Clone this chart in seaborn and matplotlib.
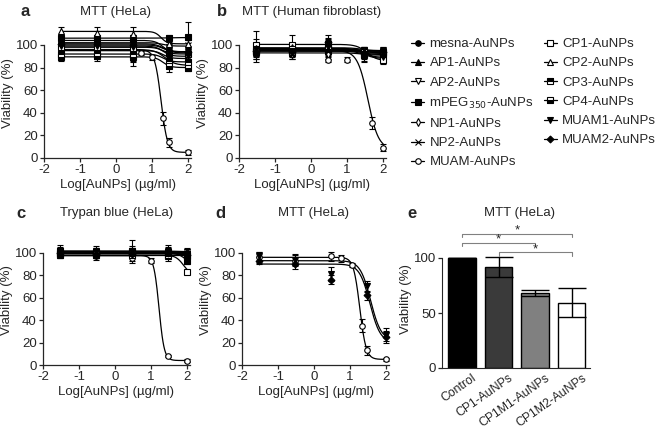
import numpy as np
import pandas as pd
import seaborn as sns
import matplotlib.pyplot as plt
import matplotlib.transforms as mtransforms
from matplotlib.lines import Line2D

sns.set_style("ticks")
plt.rcParams['font.family'] = ['Liberation Sans', 'DejaVu Sans']
plt.rcParams['axes.unicode_minus'] = False
plt.rcParams['font.size'] = 9.5

W, H = 658, 428

names = ['mesna', 'AP1', 'AP2', 'mPEG350', 'NP1', 'NP2', 'MUAM',
         'CP1', 'CP2', 'CP3', 'CP4', 'MUAM1', 'MUAM2']
labels = ['mesna-AuNPs', 'AP1-AuNPs', 'AP2-AuNPs', 'mPEG$_{350}$-AuNPs', 'NP1-AuNPs',
          'NP2-AuNPs', 'MUAM-AuNPs', 'CP1-AuNPs', 'CP2-AuNPs', 'CP3-AuNPs',
          'CP4-AuNPs', 'MUAM1-AuNPs', 'MUAM2-AuNPs']

x_std = [-1.52, -0.52, 0.48, 1.48, 2.0]

# panel a - MTT (HeLa)
a_x_muam = [-1.52, -0.52, 0.48, 0.7, 1.0, 1.3, 1.48, 2.0]
a_mean = {
    'mesna': [100, 101, 100, 94, 95], 'AP1': [104, 104, 103, 96, 93],
    'AP2': [97, 96, 95, 86, 82], 'mPEG350': [106, 106, 105, 106, 107],
    'NP1': [95, 95, 94, 89, 88], 'NP2': [102, 101, 102, 98, 100],
    'MUAM': [96, 95, 95, 93, 89, 35, 14, 5],
    'CP1': [98, 98, 97, 93, 92], 'CP2': [112, 111, 110, 101, 101],
    'CP3': [92, 92, 91, 86, 85], 'CP4': [89, 90, 89, 81, 80],
    'MUAM1': [99, 99, 98, 90, 90], 'MUAM2': [101, 101, 100, 95, 94],
}
a_err = {
    'mesna': [4, 5, 5, 3, 4], 'AP1': [5, 4, 6, 3, 3], 'AP2': [6, 5, 14, 4, 3],
    'mPEG350': [4, 3, 4, 3, 13], 'NP1': [5, 4, 5, 3, 3], 'NP2': [4, 5, 4, 3, 4],
    'MUAM': [4, 4, 4, 2, 2, 6, 4, 2],
    'CP1': [4, 4, 5, 3, 3], 'CP2': [4, 5, 6, 4, 4], 'CP3': [4, 4, 5, 3, 3],
    'CP4': [3, 4, 4, 5, 3], 'MUAM1': [4, 4, 5, 3, 4], 'MUAM2': [4, 4, 5, 3, 4],
}
a_fit = {
    'mesna': (100, 94, 1.3, 4), 'AP1': (104, 93, 1.3, 4), 'AP2': (96, 82, 1.35, 3),
    'mPEG350': (106, 106.5, 1.3, 4), 'NP1': (95, 88, 1.3, 4), 'NP2': (102, 99, 1.3, 4),
    'MUAM': (95.5, 5, 1.25, 5), 'CP1': (98, 92, 1.3, 4), 'CP2': (112, 101, 1.25, 5),
    'CP3': (92, 85, 1.3, 4), 'CP4': (89.5, 80, 1.3, 4), 'MUAM1': (99, 90, 1.3, 4),
    'MUAM2': (101, 94, 1.3, 4),
}

# panel b - MTT (human fibroblast)
b_x_muam = [-1.52, -0.52, 0.48, 1.0, 1.7, 2.0]
b_mean = {
    'mesna': [96, 95, 96, 94, 95], 'AP1': [97, 96, 100, 93, 93],
    'AP2': [94, 93, 95, 90, 88], 'mPEG350': [95, 94, 95, 95, 94],
    'NP1': [93, 92, 92, 92, 91], 'NP2': [96, 95, 96, 95, 94],
    'MUAM': [95, 94, 87, 87, 31, 9],
    'CP1': [100, 100, 101, 94, 87], 'CP2': [97, 98, 99, 95, 95],
    'CP3': [94, 94, 97, 92, 93], 'CP4': [95, 96, 96, 91, 92],
    'MUAM1': [96, 95, 98, 90, 89], 'MUAM2': [95, 94, 103, 93, 94],
}
b_err = {
    'mesna': [5, 4, 4, 3, 3], 'AP1': [8, 6, 5, 4, 3], 'AP2': [6, 5, 4, 4, 4],
    'mPEG350': [4, 4, 3, 3, 3], 'NP1': [8, 4, 4, 3, 4], 'NP2': [4, 4, 4, 3, 3],
    'MUAM': [5, 4, 2, 2, 5, 3],
    'CP1': [12, 9, 5, 4, 4], 'CP2': [5, 4, 4, 3, 3], 'CP3': [4, 4, 7, 3, 3],
    'CP4': [4, 3, 4, 3, 3], 'MUAM1': [4, 4, 4, 5, 4], 'MUAM2': [4, 5, 6, 4, 3],
}
b_fit = {
    'mesna': (96, 94.5, 1.4, 3), 'AP1': (97, 93, 1.4, 3), 'AP2': (94.5, 88, 1.5, 3),
    'mPEG350': (95, 94.5, 1.4, 3), 'NP1': (93, 91, 1.4, 3), 'NP2': (96, 94.5, 1.4, 3),
    'MUAM': (95, 8, 1.58, 3), 'CP1': (100.5, 86, 1.55, 3), 'CP2': (97.5, 95, 1.4, 3),
    'CP3': (95, 92.5, 1.4, 3), 'CP4': (95.5, 91.5, 1.4, 3), 'MUAM1': (96.5, 89, 1.45, 3),
    'MUAM2': (95.5, 93.5, 1.4, 3),
}

# panel c - Trypan blue (HeLa)
c_x_muam = [-1.52, -0.52, 0.48, 1.0, 1.48, 2.0]
c_mean = {
    'mesna': [101, 101, 100, 100, 100], 'AP1': [102, 101, 101, 102, 101],
    'AP2': [99, 98, 99, 98, 99], 'mPEG350': [102, 101, 102, 101, 93],
    'NP1': [100, 99, 100, 99, 99], 'NP2': [100, 100, 100, 100, 100],
    'MUAM': [98, 97, 95, 93, 8, 4],
    'CP1': [98, 98, 98, 97, 83], 'CP2': [101, 100, 101, 101, 100],
    'CP3': [99, 99, 100, 98, 97], 'CP4': [100, 100, 101, 100, 98],
    'MUAM1': [101, 101, 100, 101, 99], 'MUAM2': [100, 99, 99, 100, 98],
}
c_err = {
    'mesna': [3, 3, 3, 3, 3], 'AP1': [5, 5, 10, 5, 3], 'AP2': [3, 3, 3, 3, 3],
    'mPEG350': [3, 3, 4, 4, 3], 'NP1': [3, 3, 3, 3, 3], 'NP2': [3, 3, 3, 3, 3],
    'MUAM': [3, 3, 2, 2, 1, 1],
    'CP1': [3, 3, 3, 4, 2], 'CP2': [3, 3, 3, 3, 3], 'CP3': [3, 3, 3, 3, 3],
    'CP4': [3, 3, 3, 3, 3], 'MUAM1': [3, 3, 3, 3, 3], 'MUAM2': [3, 3, 3, 3, 3],
}
c_fit = {
    'mesna': (101, 100, 1.8, 4), 'AP1': (101.5, 101, 1.8, 4), 'AP2': (98.5, 98.5, 1.8, 4),
    'mPEG350': (101.5, 92, 1.85, 4), 'NP1': (99.5, 99, 1.8, 4), 'NP2': (100, 100, 1.8, 4),
    'MUAM': (97.5, 4, 1.22, 6), 'CP1': (98, 80, 1.9, 4), 'CP2': (101, 100, 1.8, 4),
    'CP3': (99.5, 97, 1.8, 4), 'CP4': (100.5, 98, 1.8, 4), 'MUAM1': (101, 99, 1.8, 4),
    'MUAM2': (99.5, 98, 1.8, 4),
}

# panel d - MTT (HeLa), MUAM series only
d_x_muam = [-1.52, -0.52, 0.48, 0.76, 1.04, 1.33, 1.48, 2.0]
d_mean = {
    'MUAM': [96, 93, 97, 95, 89, 35, 13, 5],
    'MUAM1': [97, 94, 81, 70, 27],
    'MUAM2': [93, 90, 76, 62, 25],
}
d_err = {
    'MUAM': [5, 5, 4, 3, 2, 6, 4, 1],
    'MUAM1': [4, 5, 6, 5, 6],
    'MUAM2': [3, 4, 4, 4, 5],
}
d_fit = {
    'MUAM': (96, 5, 1.27, 5),
    'MUAM1': (93, 22, 1.57, 3),
    'MUAM2': (90, 20, 1.55, 3),
}

# panel e - bar chart
e_groups = ['Control', 'CP1-AuNPs', 'CP1M1-AuNPs', 'CP1M2-AuNPs']
e_values = [100, 92, 68, 59.5]
e_errors = [0, 9, 2.5, 13]
e_colors = ['#000000', '#3a3a3a', '#808080', '#ffffff']
e_pairs = [(0, 3), (0, 2), (1, 3)]
e_pair_y = [122, 114, 105]

markers = {
    'mesna': ('o', 'full'), 'AP1': ('^', 'full'), 'AP2': ('v', 'none'),
    'mPEG350': ('s', 'full'), 'NP1': ('d', 'none'), 'NP2': ('x', 'full'),
    'MUAM': ('o', 'none'), 'CP1': ('s', 'none'), 'CP2': ('^', 'none'),
    'CP3': ('s', 'top'), 'CP4': ('s', 'bottom'), 'MUAM1': ('v', 'full'),
    'MUAM2': ('D', 'full'),
}


def mk_kw(name):
    m, fs = markers[name]
    kw = dict(marker=m, color='black', markeredgecolor='black', markersize=4,
              markeredgewidth=0.8)
    if fs == 'none':
        kw['markerfacecolor'] = 'white'
    elif fs in ('top', 'bottom'):
        kw['fillstyle'] = fs
        kw['markerfacecoloralt'] = 'white'
    if m == 'D':
        kw['markersize'] = 3.5
    return kw


def px_axes(fig, left, bottom, width, height):
    return fig.add_axes([left / W, 1 - bottom / H, width / W, height / H])


def curve_panel(ax, means, errs, fits, x_muam):
    xg = np.linspace(-1.52, 2.0, 300)
    for name in means:
        top, bot, ec, h = fits[name]
        yc = bot + (top - bot) / (1 + 10 ** ((xg - ec) * h))
        sns.lineplot(x=xg, y=yc, ax=ax, color='black', lw=0.9)
    for name in means:
        xs = x_muam if name == 'MUAM' else x_std
        ax.errorbar(xs, means[name], yerr=errs[name], linestyle='none',
                    ecolor='black', elinewidth=0.8, capsize=2, capthick=0.8,
                    clip_on=False, zorder=3, **mk_kw(name))
    ax.set_xlim(-2, 2.08)
    ax.set_ylim(0, 115)
    ax.set_xticks([-2, -1, 0, 1, 2])
    ax.set_yticks([0, 20, 40, 60, 80, 100])
    ax.spines['left'].set_bounds(0, 100)
    sns.despine(ax=ax)
    ax.tick_params(length=3, width=0.9, pad=1.5, labelsize=9.5)
    for s in ('left', 'bottom'):
        ax.spines[s].set_linewidth(0.9)
    ax.set_xlabel('Log[AuNPs] (µg/ml)', fontsize=9.5, labelpad=2)
    ax.set_ylabel('Viability (%)', fontsize=9.5, labelpad=1)


fig = plt.figure(figsize=(W / 100, H / 100), dpi=100)

ax_a = px_axes(fig, 44, 158, 147, 130)
ax_b = px_axes(fig, 239, 158, 147, 130)
ax_c = px_axes(fig, 43, 365, 147, 129)
ax_d = px_axes(fig, 242, 365, 147, 129)
ax_e = px_axes(fig, 442, 368, 148, 137.5)

curve_panel(ax_a, a_mean, a_err, a_fit, a_x_muam)
curve_panel(ax_b, b_mean, b_err, b_fit, b_x_muam)
curve_panel(ax_c, c_mean, c_err, c_fit, c_x_muam)
curve_panel(ax_d, d_mean, d_err, d_fit, d_x_muam)

# panel e
df_e = pd.DataFrame({'group': e_groups, 'value': e_values})
sns.barplot(data=df_e, x='group', y='value', hue='group', palette=e_colors,
            width=0.75, edgecolor='black', linewidth=1, legend=False, ax=ax_e)
ax_e.errorbar(range(len(e_groups)), e_values, yerr=e_errors, fmt='none',
              ecolor='black', elinewidth=1, capsize=10, capthick=1)
for (i, j), yb in zip(e_pairs, e_pair_y):
    ax_e.plot([i, i, j, j], [yb - 3, yb, yb, yb - 3], color='#808080', lw=0.8,
              clip_on=False)
    ax_e.text((i + j) / 2, yb - 2.5, '*', ha='center', va='bottom', fontsize=9.5)
ax_e.set_xlim(-0.55, 3.5)
ax_e.set_ylim(0, 125)
ax_e.set_yticks([0, 50, 100])
ax_e.spines['left'].set_bounds(0, 100)
sns.despine(ax=ax_e)
ax_e.tick_params(length=3, width=0.9, pad=1.5, labelsize=9.5)
ax_e.tick_params(axis='x', length=0, pad=3, labelsize=8.8)
ax_e.set_xlabel('')
ax_e.set_ylabel('Viability (%)', fontsize=9.5, labelpad=1)
shift = mtransforms.ScaledTranslation(10 / 100, 0, fig.dpi_scale_trans)
for t in ax_e.get_xticklabels():
    t.set_rotation(35)
    t.set_ha('right')
    t.set_va('top')
    t.set_rotation_mode('anchor')
    t.set_transform(t.get_transform() + shift)

# legend
handles = [Line2D([0], [0], lw=0.9, **mk_kw(n)) for n in names]
fig.legend(handles, labels, loc='upper left', bbox_to_anchor=(411 / W, 1 - 38 / H),
           ncol=2, frameon=False, fontsize=9.5, handlelength=1.0,
           handletextpad=0.4, columnspacing=0.75, labelspacing=0.53, borderpad=0,
           borderaxespad=0)

# titles and panel letters
for txt, x, y in [('MTT (HeLa)', 116, 12), ('MTT (Human fibroblast)', 312, 12),
                  ('Trypan blue (HeLa)', 117, 213), ('MTT (HeLa)', 313, 213),
                  ('MTT (HeLa)', 520, 213)]:
    fig.text(x / W, 1 - y / H, txt, ha='center', va='center', fontsize=9.5)
for txt, x, y in [('a', 25, 11), ('b', 222, 11), ('c', 21, 213),
                  ('d', 220, 213), ('e', 412, 213)]:
    fig.text(x / W, 1 - y / H, txt, ha='center', va='center', fontsize=12,
             fontweight='bold')

fig.savefig('out.png', dpi=100)
